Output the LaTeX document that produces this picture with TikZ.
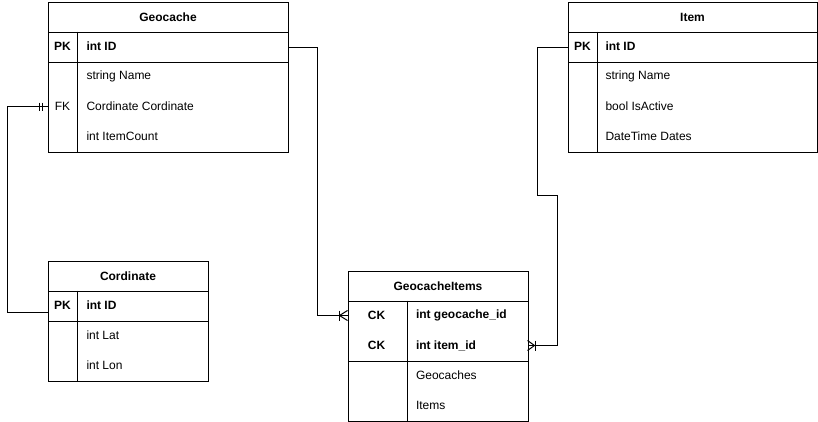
\documentclass[tikz,border=0pt]{standalone}
\usepackage{fontspec}
\setmainfont{Liberation Sans}
\begin{document}
\begin{tikzpicture}[x=1pt,y=-1pt,line width=1pt,
  box/.style={draw,rectangle,inner sep=0pt,anchor=north west},
  key/.style={font=\fontsize{12}{14}\selectfont\bfseries,inner sep=0pt},
  keyr/.style={font=\fontsize{12}{14}\selectfont,inner sep=0pt},
  attrb/.style={font=\fontsize{12}{14}\selectfont\bfseries,inner sep=0pt,anchor=west},
  attr/.style={font=\fontsize{12}{14}\selectfont,inner sep=0pt,anchor=west},
  ttl/.style={box,font=\fontsize{12}{14}\selectfont\bfseries},
  conn/.style={draw,line width=1pt}]
\useasboundingbox (0,0) rectangle (818,421);
% ---------- Geocache ----------
\node[ttl,minimum width=240pt,minimum height=30pt] (geoT) at (47.5,1.5) {Geocache};
\node[box,minimum width=240pt,minimum height=30pt] (geoPK) at (47.5,31.5) {};
\node[box,minimum width=240pt,minimum height=90pt] (geoA) at (47.5,61.5) {};
\draw ([xshift=30pt]geoPK.north west) -- ([xshift=30pt]geoA.south west);
\node[key] (geoPKk) at (62.5,46.5) {PK};
\node[attrb] (geoPKv) at (86,46.5) {int ID};
\node[attr] (geoA1) at (86,76.5) {string Name};
\node[keyr] (geoFKk) at (62.5,106.5) {FK};
\node[attr] (geoA2) at (86,106.5) {Cordinate Cordinate};
\node[attr] (geoA3) at (86,136.5) {int ItemCount};
\coordinate (geoFK) at (47.5,106.5);
% ---------- Item ----------
\node[ttl,minimum width=249pt,minimum height=30pt] (itT) at (567.5,1.5) {Item};
\node[box,minimum width=249pt,minimum height=30pt] (itPK) at (567.5,31.5) {};
\node[box,minimum width=249pt,minimum height=90pt] (itA) at (567.5,61.5) {};
\draw ([xshift=30pt]itPK.north west) -- ([xshift=30pt]itA.south west);
\node[key] (itPKk) at (582.5,46.5) {PK};
\node[attrb] (itPKv) at (605,46.5) {int ID};
\node[attr] (itA1) at (605,76.5) {string Name};
\node[attr] (itA2) at (605,106.5) {bool IsActive};
\node[attr] (itA3) at (605,136.5) {DateTime Dates};
% ---------- Cordinate ----------
\node[ttl,minimum width=160pt,minimum height=30pt] (corT) at (47.5,260.5) {Cordinate};
\node[box,minimum width=160pt,minimum height=30pt] (corPK) at (47.5,290.5) {};
\node[box,minimum width=160pt,minimum height=60pt] (corA) at (47.5,320.5) {};
\draw ([xshift=30pt]corPK.north west) -- ([xshift=30pt]corA.south west);
\node[key] (corPKk) at (62.5,305.5) {PK};
\node[attrb] (corPKv) at (86,305.5) {int ID};
\node[attr] (corA1) at (86,335.5) {int Lat};
\node[attr] (corA2) at (86,365.5) {int Lon};
% ---------- GeocacheItems ----------
\node[ttl,minimum width=180pt,minimum height=30pt] (giT) at (347.5,270.5) {GeocacheItems};
\node[box,minimum width=180pt,minimum height=60pt] (giK) at (347.5,300.5) {};
\node[box,minimum width=180pt,minimum height=60pt] (giA) at (347.5,360.5) {};
\draw ([xshift=60pt]giK.north west) -- ([xshift=60pt]giA.south west);
\node[key] (giK1k) at (376.5,315.5) {CK};
\node[attrb] (giK1v) at (415.5,315.5) {int geocache\_id};
\node[key] (giK2k) at (376.5,345.5) {CK};
\node[attrb] (giK2v) at (415.5,345.5) {int item\_id};
\node[attr] (giA1) at (415.5,375.5) {Geocaches};
\node[attr] (giA2) at (415.5,405.5) {Items};
\coordinate (giR1) at (347.5,315.5);
\coordinate (giR2) at (527.5,345.5);
% ---------- connectors ----------
% Geocache PK -> GeocacheItems (one or many)
\draw[conn] (geoPK.east) -| (317.5,200) |- (giR1);
\draw ([xshift=-8pt]giR1) -- ([yshift=5pt]giR1);
\draw ([xshift=-8pt]giR1) -- ([yshift=-5pt]giR1);
\draw ([xshift=-8pt,yshift=5pt]giR1) -- ([xshift=-8pt,yshift=-5pt]giR1);
% Item PK -> GeocacheItems (one or many)
\draw[conn] (itPK.west) -| (537.5,195.5) -| ([xshift=30pt]giR2) -- (giR2);
\draw ([xshift=7pt]giR2) -- ([yshift=5pt]giR2);
\draw ([xshift=7pt]giR2) -- ([yshift=-5pt]giR2);
\draw ([xshift=8pt,yshift=5pt]giR2) -- ([xshift=8pt,yshift=-5pt]giR2);
% Cordinate PK -> Geocache FK (mandatory one)
\draw[conn] ([yshift=-6.5pt]corPK.west) -- ++(-40,0) |- (geoFK);
\draw ([xshift=-8pt,yshift=4pt]geoFK) -- ([xshift=-8pt,yshift=-4pt]geoFK);
\draw ([xshift=-5pt,yshift=4pt]geoFK) -- ([xshift=-5pt,yshift=-4pt]geoFK);
\end{tikzpicture}
\end{document}
